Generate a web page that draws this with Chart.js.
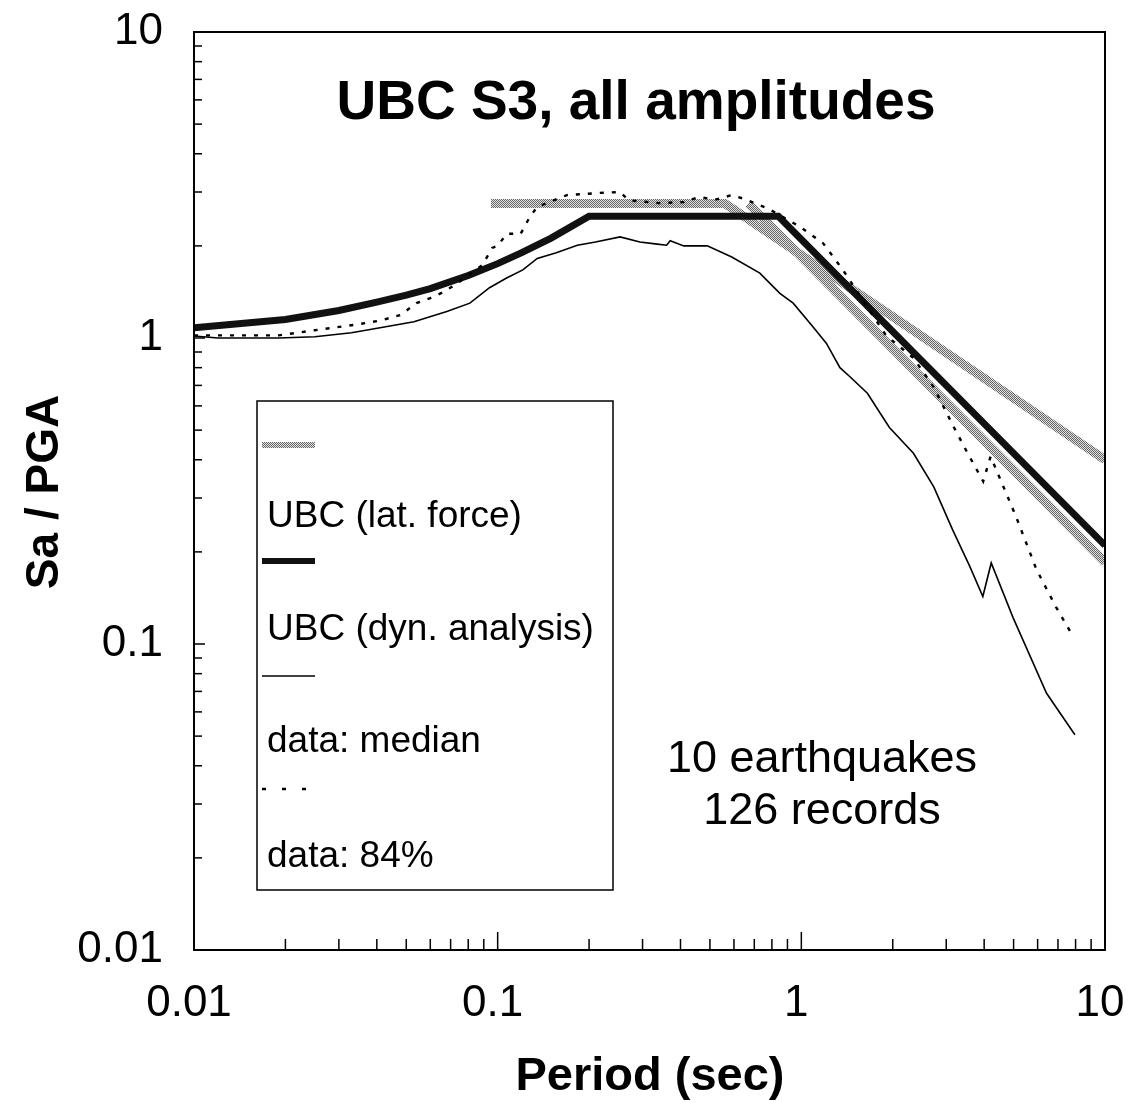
<!DOCTYPE html>
<html>
<head>
<meta charset="utf-8">
<script src="https://cdn.jsdelivr.net/npm/chart.js@4/dist/chart.umd.min.js"></script>
<style>
  html, body { margin: 0; background: #fff; }
</style>
</head>
<body>
<canvas id="chart" width="1132" height="1103"></canvas>
<script>
// UBC lateral force curve (gray band)
const latPeriod = [0.095, 0.56, 10];
const latSa = [2.75, 2.75, 0.40];
// second gray branch, same style, not in legend
const lat2Period = [0.67, 10];
const lat2Sa = [2.75, 0.185];
// UBC dynamic analysis (thick black)
const dynPeriod = [0.01, 0.02, 0.03, 0.04, 0.05, 0.06, 0.08, 0.1, 0.12, 0.15, 0.2, 0.84, 10];
const dynSa = [1.08, 1.15, 1.23, 1.31, 1.38, 1.45, 1.6, 1.75, 1.9, 2.12, 2.5, 2.5, 0.21];
// data: median (thin solid)
const medPeriod = [0.01, 0.012, 0.015, 0.019, 0.025, 0.033, 0.041, 0.053, 0.068, 0.081, 0.094, 0.107, 0.121, 0.135, 0.156, 0.183, 0.21, 0.253, 0.294, 0.33, 0.36, 0.37, 0.41, 0.49, 0.59, 0.73, 0.85, 0.94, 1.09, 1.21, 1.34, 1.44, 1.65, 1.95, 2.34, 2.73, 3.15, 3.59, 3.96, 4.22, 4.98, 6.42, 7.96];
const medSa = [1.015, 1.0, 1.0, 1.0, 1.01, 1.04, 1.08, 1.13, 1.22, 1.30, 1.46, 1.57, 1.67, 1.82, 1.90, 2.01, 2.06, 2.14, 2.06, 2.03, 2.01, 2.08, 2.0, 2.0, 1.84, 1.63, 1.40, 1.30, 1.09, 0.96, 0.80, 0.75, 0.66, 0.51, 0.42, 0.326, 0.236, 0.179, 0.143, 0.184, 0.122, 0.069, 0.0505];
// data: 84% (dotted)
const p84Period = [0.01, 0.019, 0.025, 0.035, 0.041, 0.048, 0.054, 0.06, 0.066, 0.073, 0.089, 0.096, 0.1, 0.107, 0.119, 0.128, 0.135, 0.169, 0.217, 0.253, 0.27, 0.34, 0.41, 0.46, 0.52, 0.59, 0.64, 0.77, 0.85, 0.99, 1.18, 1.37, 1.9, 2.34, 2.73, 3.15, 3.53, 3.97, 4.2, 4.8, 5.1, 5.95, 6.9, 7.8];
const p84Sa = [1.02, 1.02, 1.06, 1.11, 1.14, 1.19, 1.30, 1.35, 1.41, 1.50, 1.73, 1.97, 2.0, 2.19, 2.19, 2.5, 2.68, 2.93, 2.98, 3.0, 2.82, 2.76, 2.78, 2.89, 2.83, 2.93, 2.86, 2.66, 2.52, 2.31, 2.04, 1.67, 1.02, 0.86, 0.69, 0.52, 0.42, 0.34, 0.41, 0.30, 0.26, 0.175, 0.132, 0.107];

const decadeTicks = [0.01, 0.1, 1, 10];
const legendLabels = ['UBC (lat. force)', 'UBC (dyn. analysis)', 'data: median', 'data: 84%'];

const FONT = '"Liberation Sans", Arial, sans-serif';

function pts(xs, ys) {
  return xs.map((x, i) => ({ x: x, y: ys[i] }));
}

// halftone look for the gray band
function halftone() {
  const c = document.createElement('canvas');
  c.width = 2; c.height = 2;
  const g = c.getContext('2d');
  g.fillStyle = '#e2e2e2'; g.fillRect(0, 0, 2, 2);
  g.fillStyle = '#666'; g.fillRect(0, 0, 1, 1); g.fillRect(1, 1, 1, 1);
  return g.createPattern(c, 'repeat');
}
const gray = halftone();

const lineStyles = [
  { color: gray, width: 9, dash: [], legendDash: [] },
  { color: '#111', width: 7, dash: [], legendDash: [] },
  { color: '#000', width: 1.6, dash: [], legendDash: [] },
  { color: '#000', width: 2.4, dash: [4, 8], legendDash: [4, 16] }
];

// frame, inward ticks, title, legend box, note, axis titles
const decorations = {
  id: 'decorations',
  afterDraw(chart) {
    const ctx = chart.ctx;
    const a = chart.chartArea;
    const xs = chart.scales.x, ys = chart.scales.y;
    ctx.save();
    ctx.strokeStyle = '#000';
    ctx.lineWidth = 2;
    ctx.strokeRect(a.left, a.top, a.right - a.left, a.bottom - a.top);

    ctx.lineWidth = 1.5;
    [0.01, 0.1, 1].forEach(d => {
      for (let k = 1; k <= 9; k++) {
        const v = k * d;
        const big = k === 1;
        if (big && d === 0.01) continue;
        const px = xs.getPixelForValue(v);
        ctx.beginPath();
        ctx.moveTo(px, a.bottom);
        ctx.lineTo(px, a.bottom - (big ? 18 : 11));
        ctx.stroke();
        const py = ys.getPixelForValue(v);
        ctx.beginPath();
        ctx.moveTo(a.left, py);
        ctx.lineTo(a.left + (big ? 11 : 8), py);
        ctx.stroke();
      }
    });

    ctx.fillStyle = '#000';
    ctx.textAlign = 'center';
    ctx.textBaseline = 'middle';
    ctx.font = 'bold 55px ' + FONT;
    ctx.fillText('UBC S3, all amplitudes', 636, 104);

    ctx.font = '45px ' + FONT;
    ctx.fillText('10 earthquakes', 822, 760);
    ctx.fillText('126 records', 822, 812);

    ctx.font = 'bold 47px ' + FONT;
    ctx.fillText('Period (sec)', 650, 1077);
    ctx.save();
    ctx.translate(45, 492);
    ctx.rotate(-Math.PI / 2);
    ctx.font = 'bold 46px ' + FONT;
    ctx.fillText('Sa / PGA', 0, 0);
    ctx.restore();

    // legend: sample line on one row, its label on the next
    ctx.fillStyle = '#fff';
    ctx.fillRect(257, 401, 356, 489);
    ctx.strokeStyle = '#000';
    ctx.lineWidth = 1.5;
    ctx.strokeRect(257, 401, 356, 489);
    const sampleY = [445, 561, 676, 789];
    const textY = [517, 630, 742, 857];
    ctx.textAlign = 'left';
    ctx.font = '37px ' + FONT;
    legendLabels.forEach((lab, i) => {
      const s = lineStyles[i];
      ctx.beginPath();
      ctx.strokeStyle = s.color;
      ctx.lineWidth = Math.min(s.width, 6);
      ctx.setLineDash(s.legendDash);
      ctx.moveTo(262, sampleY[i]);
      ctx.lineTo(315, sampleY[i]);
      ctx.stroke();
      ctx.setLineDash([]);
      ctx.fillStyle = '#000';
      ctx.fillText(lab, 267, textY[i]);
    });
    ctx.restore();
  }
};

function lineSet(label, data, s, order) {
  return {
    label: label,
    data: data,
    borderColor: s.color,
    borderWidth: s.width,
    borderDash: s.dash,
    pointRadius: 0,
    tension: 0,
    fill: false,
    order: order
  };
}

function logAxis(pos, fitSize) {
  return {
    type: 'logarithmic',
    position: pos,
    min: 0.01,
    max: 10,
    afterBuildTicks: s => { s.ticks = decadeTicks.map(v => ({ value: v })); },
    afterFit: s => {
      if (pos === 'left') {
        s.width = fitSize;
        s.paddingTop = 0; s.paddingBottom = 0;
      } else {
        s.height = fitSize;
        s.paddingLeft = 0; s.paddingRight = 0;
      }
    },
    ticks: {
      autoSkip: false,
      maxRotation: 0,
      padding: pos === 'left' ? 31 : 27,
      labelOffset: pos === 'left' ? 0 : -5,
      color: '#000',
      font: { family: FONT, size: 44 },
      callback: v => String(v)
    },
    grid: { display: false, drawTicks: false },
    border: { display: false }
  };
}

new Chart(document.getElementById('chart'), {
  type: 'line',
  data: {
    datasets: [
      lineSet(legendLabels[2], pts(medPeriod, medSa), lineStyles[2], 0),
      lineSet(legendLabels[3], pts(p84Period, p84Sa), lineStyles[3], 1),
      lineSet(legendLabels[1], pts(dynPeriod, dynSa), lineStyles[1], 2),
      lineSet(legendLabels[0], pts(latPeriod, latSa), lineStyles[0], 3),
      lineSet('', pts(lat2Period, lat2Sa), lineStyles[0], 4)
    ]
  },
  options: {
    responsive: false,
    animation: false,
    devicePixelRatio: 1,
    layout: { padding: { top: 32, right: 27, left: 0, bottom: 0 } },
    plugins: {
      legend: { display: false },
      tooltip: { enabled: false }
    },
    scales: {
      x: logAxis('bottom', 153),
      y: logAxis('left', 194)
    }
  },
  plugins: [decorations]
});
</script>
</body>
</html>
